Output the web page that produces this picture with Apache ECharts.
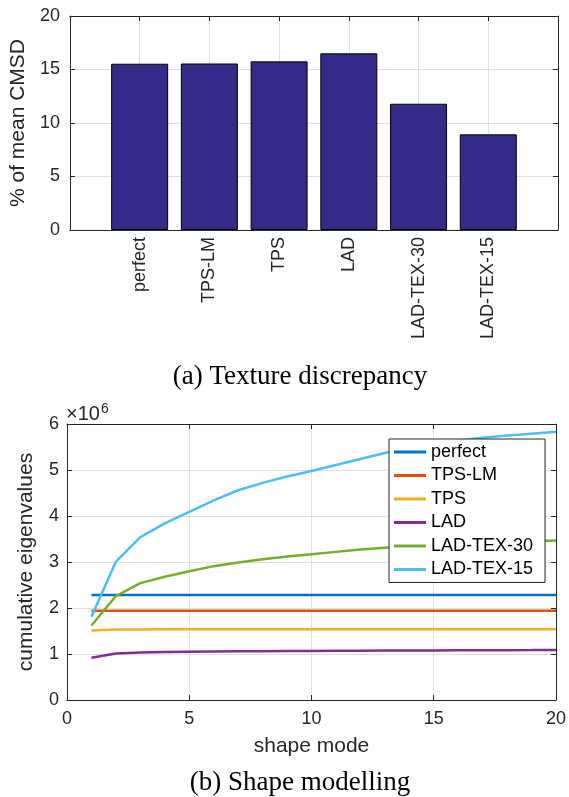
<!DOCTYPE html>
<html lang="en" style="height: 100%">
<head>
  <meta charset="utf-8" />
  <title>Texture discrepancy and shape modelling</title>
</head>
<body style="height: 100%; margin: 0; background: #fff">
  <div id="container" style="width: 569px; height: 797px"></div>

  <script type="text/javascript" src="https://fastly.jsdelivr.net/npm/echarts@6.0.0/dist/echarts.min.js"></script>

  <script type="text/javascript">
    // (a) texture discrepancy, % of mean CMSD
    var methods = ['perfect', 'TPS-LM', 'TPS', 'LAD', 'LAD-TEX-30', 'LAD-TEX-15'];
    var texValues = [15.54, 15.56, 15.76, 16.51, 11.80, 8.94];

    // (b) cumulative eigenvalues (x 10^6) per shape mode
    var modes = [1, 2, 3, 4, 5, 6, 7, 8, 9, 10, 11, 12, 13, 14, 15, 16, 17, 18, 19, 20];
    var perfect = [2.28, 2.28, 2.28, 2.28, 2.28, 2.28, 2.28, 2.28, 2.28, 2.28, 2.28, 2.28, 2.28, 2.28, 2.28, 2.28, 2.28, 2.28, 2.28, 2.28];
    var tpsLm = [1.94, 1.94, 1.94, 1.94, 1.94, 1.94, 1.94, 1.94, 1.94, 1.94, 1.94, 1.94, 1.94, 1.94, 1.94, 1.94, 1.94, 1.94, 1.94, 1.94];
    var tps = [1.51, 1.53, 1.535, 1.537, 1.538, 1.538, 1.539, 1.539, 1.539, 1.54, 1.54, 1.54, 1.54, 1.54, 1.54, 1.54, 1.54, 1.54, 1.54, 1.54];
    var lad = [0.92, 1.01, 1.03, 1.045, 1.05, 1.055, 1.06, 1.062, 1.065, 1.067, 1.07, 1.072, 1.074, 1.076, 1.078, 1.08, 1.082, 1.084, 1.085, 1.087];
    var ladTex30 = [1.62, 2.26, 2.54, 2.68, 2.80, 2.91, 2.99, 3.06, 3.12, 3.17, 3.22, 3.27, 3.31, 3.34, 3.37, 3.39, 3.41, 3.43, 3.45, 3.47];
    var ladTex15 = [1.81, 3.01, 3.54, 3.84, 4.09, 4.34, 4.56, 4.72, 4.86, 4.98, 5.11, 5.24, 5.37, 5.48, 5.57, 5.64, 5.70, 5.75, 5.79, 5.83];

    var lineNames = ['perfect', 'TPS-LM', 'TPS', 'LAD', 'LAD-TEX-30', 'LAD-TEX-15'];
    var lineData = [perfect, tpsLm, tps, lad, ladTex30, ladTex15];
    var lineColors = ['#0072BD', '#D95319', '#EDB120', '#7E2F8E', '#77AC30', '#4DBEEE'];

    var SANS = '"Liberation Sans", Arial, Helvetica, sans-serif';
    var INK = '#262626';
    var GRIDC = '#e0e0e0';

    function frameAxis(gridIndex, pos, min, max, interval) {
      return {
        type: 'value', gridIndex: gridIndex, position: pos,
        min: min, max: max, interval: interval,
        axisLine: { show: true, onZero: false, lineStyle: { color: INK, width: 1 } },
        axisTick: { show: true, inside: true, length: 5, lineStyle: { color: INK } },
        axisLabel: { show: false },
        splitLine: { show: false }
      };
    }

    var dom = document.getElementById('container');
    var myChart = echarts.init(dom, null, { renderer: 'canvas' });

    var series = [{
      type: 'bar',
      xAxisIndex: 0,
      yAxisIndex: 0,
      barWidth: 57,
      data: texValues.map(function (v, i) { return [i + 1, v]; }),
      itemStyle: { color: '#352a87', borderColor: '#000', borderWidth: 1 },
      silent: true
    }];
    lineNames.forEach(function (name, k) {
      series.push({
        type: 'line',
        name: name,
        xAxisIndex: 2,
        yAxisIndex: 2,
        symbol: 'none',
        data: modes.map(function (m, i) { return [m, lineData[k][i]]; }),
        lineStyle: { color: lineColors[k], width: 2.5 },
        itemStyle: { color: lineColors[k] }
      });
    });

    var option = {
      animation: false,
      backgroundColor: '#fff',
      textStyle: { fontFamily: SANS, color: INK },
      grid: [
        { left: 67, right: 11, top: 16, height: 214, show: false },
        { left: 67, right: 11, top: 424, height: 276, show: false }
      ],
      xAxis: [
        {
          type: 'value', gridIndex: 0, min: 0, max: 7, interval: 1,
          axisLine: { onZero: false, lineStyle: { color: INK } },
          axisTick: { inside: true, length: 5, lineStyle: { color: INK } },
          axisLabel: {
            rotate: 90, margin: 7, fontSize: 18, color: INK, fontFamily: SANS,
            formatter: function (v) { return methods[v - 1] || ''; }
          },
          splitLine: { show: true, lineStyle: { color: GRIDC } }
        },
        frameAxis(0, 'top', 0, 7, 1),
        {
          type: 'value', gridIndex: 1, min: 0, max: 20, interval: 5,
          name: 'shape mode', nameLocation: 'middle', nameGap: 36,
          nameTextStyle: { fontSize: 21, color: INK, fontFamily: SANS },
          axisLine: { onZero: false, lineStyle: { color: INK } },
          axisTick: { inside: true, length: 5, lineStyle: { color: INK } },
          axisLabel: { margin: 10, fontSize: 18, color: INK, fontFamily: SANS },
          splitLine: { show: true, lineStyle: { color: GRIDC } }
        },
        frameAxis(1, 'top', 0, 20, 5)
      ],
      yAxis: [
        {
          type: 'value', gridIndex: 0, min: 0, max: 20, interval: 5,
          name: '% of mean CMSD', nameLocation: 'middle', nameGap: 39,
          nameTextStyle: { fontSize: 21, color: INK, fontFamily: SANS },
          axisLine: { show: true, lineStyle: { color: INK } },
          axisTick: { show: true, inside: true, length: 5, lineStyle: { color: INK } },
          axisLabel: { margin: 10, fontSize: 18, color: INK, fontFamily: SANS },
          splitLine: { show: true, lineStyle: { color: GRIDC } }
        },
        frameAxis(0, 'right', 0, 20, 5),
        {
          type: 'value', gridIndex: 1, min: 0, max: 6, interval: 1,
          name: 'cumulative eigenvalues', nameLocation: 'middle', nameGap: 30,
          nameTextStyle: { fontSize: 21, color: INK, fontFamily: SANS },
          axisLine: { show: true, lineStyle: { color: INK } },
          axisTick: { show: true, inside: true, length: 5, lineStyle: { color: INK } },
          axisLabel: { margin: 8, fontSize: 18, color: INK, fontFamily: SANS },
          splitLine: { show: true, lineStyle: { color: GRIDC } }
        },
        frameAxis(1, 'right', 0, 6, 1)
      ],
      legend: {
        data: lineNames.map(function (n) { return { name: n, icon: 'rect' }; }),
        orient: 'vertical',
        left: 389,
        top: 439,
        padding: [3, 12, 3, 5],
        itemGap: 3.5,
        itemWidth: 32,
        itemHeight: 3,
        backgroundColor: '#fff',
        borderColor: INK,
        borderWidth: 1,
        borderRadius: 0,
        textStyle: { fontSize: 18, color: '#000', fontFamily: SANS, lineHeight: 20 },
        selectedMode: false
      },
      graphic: [
        {
          type: 'text', left: 66, top: 402,
          style: {
            text: '×10{s|6}',
            font: '20px ' + SANS,
            fill: INK,
            rich: { s: { fontSize: 14, verticalAlign: 'top', padding: [0, 0, 10, 1], fontFamily: SANS, fill: INK } }
          }
        },
        {
          type: 'text', x: 300, y: 377,
          style: {
            text: '(a) Texture discrepancy',
            font: '27px "Liberation Serif", "Times New Roman", serif',
            fill: '#000', textAlign: 'center', textVerticalAlign: 'middle'
          }
        },
        {
          type: 'text', x: 300, y: 783,
          style: {
            text: '(b) Shape modelling',
            font: '27px "Liberation Serif", "Times New Roman", serif',
            fill: '#000', textAlign: 'center', textVerticalAlign: 'middle'
          }
        }
      ],
      series: series
    };

    myChart.setOption(option);
    window.addEventListener('resize', myChart.resize);
  </script>
</body>
</html>
